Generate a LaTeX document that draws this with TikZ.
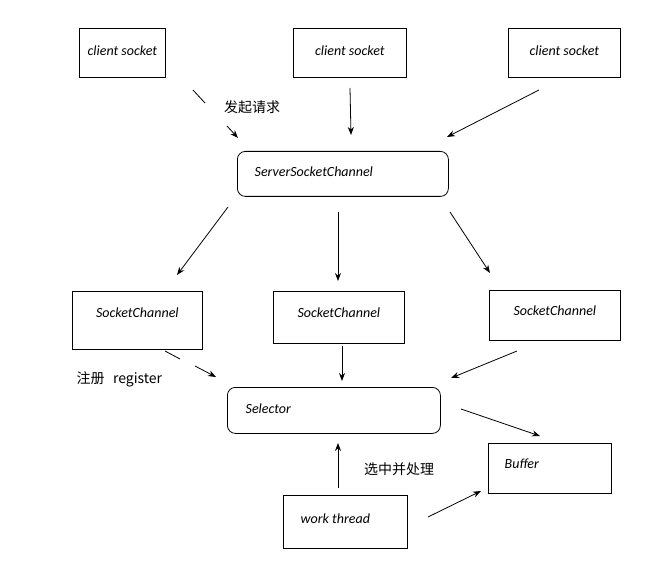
\documentclass[tikz,border=0pt]{standalone}
\usepackage{fontspec}
\setmainfont{Carlito}
\newfontfamily\cjk{Noto Sans CJK SC}
\usetikzlibrary{arrows.meta}
\begin{document}
\begin{tikzpicture}[x=0.75pt,y=-0.75pt,
  box/.style={draw,line width=0.6pt,inner sep=0pt,font=\itshape\fontsize{10.5}{12}\selectfont},
  arr/.style={-{Stealth[length=6pt,width=4.5pt]},line width=0.6pt},
  lbl/.style={font=\cjk\fontsize{10.5}{12}\selectfont,inner sep=1pt}]
\useasboundingbox (0,0) rectangle (654,563);
\newcommand\bx[6]{\draw[line width=0.6pt,#6] (#2,#3) rectangle (#4,#5);}
\node[box,minimum width=86*0.75pt,minimum height=49*0.75pt,anchor=north west] (c1) at (79,28) {};
\node[anchor=north,font=\itshape\fontsize{10.5}{12}\selectfont] at (c1.north) [yshift=-10pt] {client socket};
\node[box,minimum width=113*0.75pt,minimum height=49*0.75pt,anchor=north west] (c2) at (293,28) {};
\node[anchor=north,font=\itshape\fontsize{10.5}{12}\selectfont] at (c2.north) [yshift=-10pt] {client socket};
\node[box,minimum width=112*0.75pt,minimum height=49*0.75pt,anchor=north west] (c3) at (508,28) {};
\node[anchor=north,font=\itshape\fontsize{10.5}{12}\selectfont] at (c3.north) [yshift=-10pt] {client socket};
\node[box,rounded corners=6pt,minimum width=211*0.75pt,minimum height=45*0.75pt,anchor=north west] (ssc) at (237,151) {};
\node[anchor=west,font=\itshape\fontsize{10.5}{12}\selectfont] at (250,172) {ServerSocketChannel};
\node[box,minimum width=130*0.75pt,minimum height=58*0.75pt,anchor=north west] (s1) at (72,291) {};
\node[anchor=north,font=\itshape\fontsize{10.5}{12}\selectfont] at (s1.north) [yshift=-9pt] {SocketChannel};
\node[box,minimum width=131*0.75pt,minimum height=52*0.75pt,anchor=north west] (s2) at (273,291) {};
\node[anchor=north,font=\itshape\fontsize{10.5}{12}\selectfont] at (s2.north) [yshift=-9pt] {SocketChannel};
\node[box,minimum width=131*0.75pt,minimum height=50*0.75pt,anchor=north west] (s3) at (489,290) {};
\node[anchor=north,font=\itshape\fontsize{10.5}{12}\selectfont] at (s3.north) [yshift=-8pt] {SocketChannel};
\node[box,rounded corners=6pt,minimum width=213*0.75pt,minimum height=46*0.75pt,anchor=north west] (sel) at (227,387) {};
\node[anchor=west,font=\itshape\fontsize{10.5}{12}\selectfont] at (241,409) {Selector};
\node[box,minimum width=123*0.75pt,minimum height=50*0.75pt,anchor=north west] (buf) at (488,443) {};
\node[anchor=west,font=\itshape\fontsize{10.5}{12}\selectfont] at (500,464) {Buffer};
\node[box,minimum width=124*0.75pt,minimum height=53*0.75pt,anchor=north west] (wt) at (283,495) {};
\node[anchor=west,font=\itshape\fontsize{10.5}{12}\selectfont] at (296,519) {work thread};
% label nodes
\node[lbl] (l1) at (252,107) {发起请求};
\node[lbl,anchor=west] (l2) at (75,379) {注册\hspace{0.6em}\itshape register};
\node[lbl] (l3) at (399,469) {选中并处理};
% arrow coordinates
\coordinate (a1) at (193,90); \coordinate (a1m) at (205,103); \coordinate (a1n) at (227,126); \coordinate (a1e) at (238,138);
\coordinate (b1) at (350,88); \coordinate (b1e) at (351,135);
\coordinate (c1s) at (539,90); \coordinate (c1e) at (447,137);
\coordinate (d1) at (228,207); \coordinate (d1e) at (177,275);
\coordinate (d2) at (338,212); \coordinate (d2e) at (338,281);
\coordinate (d3) at (450,212); \coordinate (d3e) at (490,273);
\coordinate (e1) at (165,351); \coordinate (e1m) at (180,359); \coordinate (e1n) at (195,366); \coordinate (e1e) at (216,377);
\coordinate (e2) at (342,346); \coordinate (e2e) at (342,381);
\coordinate (e3) at (517,351); \coordinate (e3e) at (451,378);
\coordinate (f1) at (461,409); \coordinate (f1e) at (540,436);
\coordinate (g1) at (338,488); \coordinate (g1e) at (338,443);
\coordinate (h1) at (428,517); \coordinate (h1e) at (481,491);
\draw[line width=0.6pt] (a1) -- (a1m); \draw[arr] (a1n) -- (a1e);
\draw[arr] (b1) -- (b1e);
\draw[arr] (c1s) -- (c1e);
\draw[arr] (d1) -- (d1e);
\draw[arr] (d2) -- (d2e);
\draw[arr] (d3) -- (d3e);
\draw[line width=0.6pt] (e1) -- (e1m); \draw[arr] (e1n) -- (e1e);
\draw[arr] (e2) -- (e2e);
\draw[arr] (e3) -- (e3e);
\draw[arr] (f1) -- (f1e);
\draw[arr] (g1) -- (g1e);
\draw[arr] (h1) -- (h1e);
\end{tikzpicture}
\end{document}
